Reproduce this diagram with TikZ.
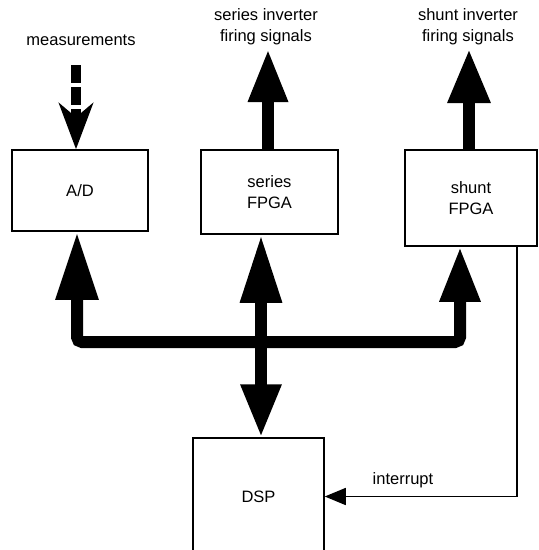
\documentclass[tikz,border=0pt]{standalone}
\usepackage{fontspec}
\setmainfont{Liberation Sans}
\usetikzlibrary{arrows.meta}
\begin{document}
\begin{tikzpicture}[x=1pt,y=-1pt,
  blk/.style={draw, line width=1.5pt, inner sep=0pt, align=center, font=\fontsize{16.5}{21}\selectfont},
  lbl/.style={align=center, font=\fontsize{16.5}{21}\selectfont, inner sep=0pt},
  fat/.style={line width=12pt},
  thin/.style={line width=1.5pt}]
\useasboundingbox (0,0) rectangle (539,550);
\clip (0,0) rectangle (539,550);
% blocks
\node[blk, minimum width=136pt, minimum height=81pt] (AD) at (80,190.5) {A/D};
\node[blk, minimum width=137pt, minimum height=84pt] (SE) at (269.5,192) {series\\FPGA};
\node[blk, minimum width=132pt, minimum height=96pt] (SH) at (471,198) {shunt\\FPGA};
\node[blk, minimum width=131pt, minimum height=117pt] (DSP) at (258.5,496.5) {DSP};
% labels
\node[lbl] (meas) at (81,40) {measurements};
\node[lbl] (sinv) at (266,27) {series inverter\\firing signals};
\node[lbl] (hinv) at (468,27) {shunt inverter\\firing signals};
\node[lbl] (intr) at (403,480) {interrupt};
% helper coordinates
\coordinate (busy) at (0,342);
\coordinate (midx) at (261,0);
\coordinate (seTop) at (268,49);
\coordinate (shTop) at (469,49);
\coordinate (measTop) at (76,65);
% bus
\draw[fat, rounded corners=5pt, {Triangle[length=68pt,width=40pt]}-{Triangle[length=55pt,width=38pt]}]
  ([xshift=-3pt]AD.south) |- ([xshift=-11pt]SH.south |- busy) -- ([xshift=-11pt]SH.south);
\draw[fat, {Triangle[length=68pt,width=39pt]}-{Triangle[length=53pt,width=38pt]}]
  (SE.south -| midx) -- (DSP.north -| midx);
% firing signal outputs
\draw[fat, -{Triangle[length=53pt,width=37pt]}] (SE.north -| seTop) -- (seTop);
\draw[fat, -{Triangle[length=54pt,width=40pt]}] (SH.north -| shTop) -- (shTop);
% measurements
\draw[line width=10pt, dash pattern=on 18pt off 4pt, -{Stealth[length=46pt,width=34pt,inset=14pt]}]
  (measTop) -- (AD.north -| measTop);
% interrupt
\draw[thin, -{Triangle[length=21pt,width=17pt]}] ([xshift=46pt]SH.south) |- (DSP.east);
\end{tikzpicture}
\end{document}
